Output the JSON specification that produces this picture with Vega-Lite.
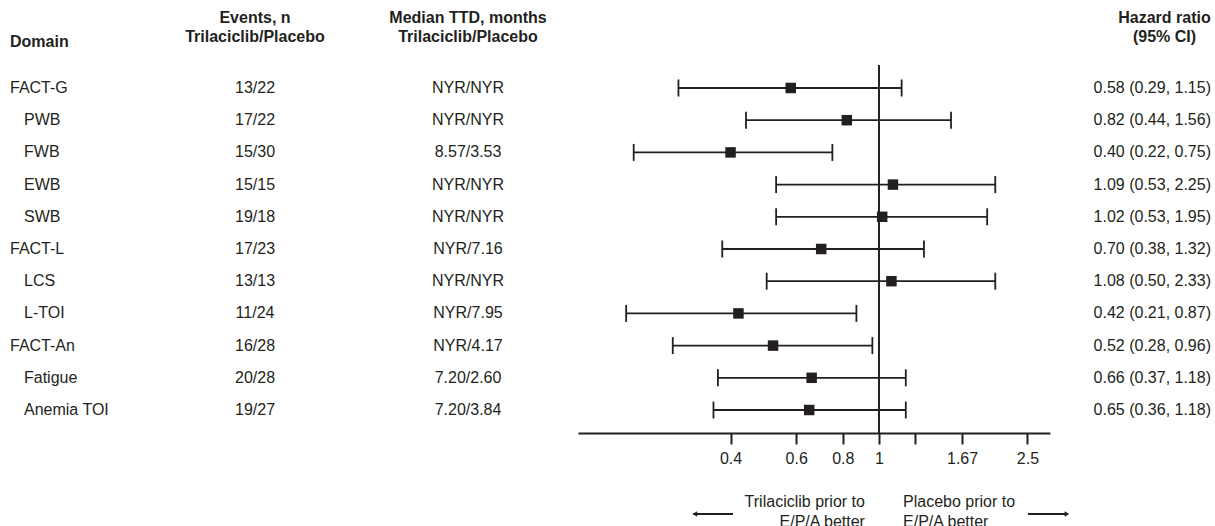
{
  "$schema": "https://vega.github.io/schema/vega-lite/v6.json",
  "padding": {"left": 10, "top": 10, "right": 3, "bottom": 0},
  "autosize": {"type": "pad"},
  "background": "white",
  "config": {
    "view": {"stroke": null},
    "font": "Liberation Sans",
    "text": {"font": "Liberation Sans", "fontSize": 16, "color": "#231f20"},
    "title": {"font": "Liberation Sans", "fontSize": 16, "fontWeight": "bold", "color": "#231f20", "lineHeight": 19},
    "axis": {
      "title": null, "grid": false,
      "domainColor": "#231f20", "domainWidth": 2,
      "tickColor": "#231f20", "tickWidth": 2, "tickSize": 11,
      "labelFont": "Liberation Sans", "labelFontSize": 16, "labelColor": "#231f20",
      "labelPadding": 6, "labelFlush": false, "labelOverlap": false
    }
  },
  "datasets": {
    "rows": [
      {"domain": "FACT-G", "level": 0, "events": "13/22", "ttd": "NYR/NYR", "hr": 0.58, "lo": 0.29, "hi": 1.15, "label": "0.58 (0.29, 1.15)"},
      {"domain": "PWB", "level": 1, "events": "17/22", "ttd": "NYR/NYR", "hr": 0.82, "lo": 0.44, "hi": 1.56, "label": "0.82 (0.44, 1.56)"},
      {"domain": "FWB", "level": 1, "events": "15/30", "ttd": "8.57/3.53", "hr": 0.40, "lo": 0.22, "hi": 0.75, "label": "0.40 (0.22, 0.75)"},
      {"domain": "EWB", "level": 1, "events": "15/15", "ttd": "NYR/NYR", "hr": 1.09, "lo": 0.53, "hi": 2.05, "label": "1.09 (0.53, 2.25)"},
      {"domain": "SWB", "level": 1, "events": "19/18", "ttd": "NYR/NYR", "hr": 1.02, "lo": 0.53, "hi": 1.95, "label": "1.02 (0.53, 1.95)"},
      {"domain": "FACT-L", "level": 0, "events": "17/23", "ttd": "NYR/7.16", "hr": 0.70, "lo": 0.38, "hi": 1.32, "label": "0.70 (0.38, 1.32)"},
      {"domain": "LCS", "level": 1, "events": "13/13", "ttd": "NYR/NYR", "hr": 1.08, "lo": 0.50, "hi": 2.05, "label": "1.08 (0.50, 2.33)"},
      {"domain": "L-TOI", "level": 1, "events": "11/24", "ttd": "NYR/7.95", "hr": 0.42, "lo": 0.21, "hi": 0.87, "label": "0.42 (0.21, 0.87)"},
      {"domain": "FACT-An", "level": 0, "events": "16/28", "ttd": "NYR/4.17", "hr": 0.52, "lo": 0.28, "hi": 0.96, "label": "0.52 (0.28, 0.96)"},
      {"domain": "Fatigue", "level": 1, "events": "20/28", "ttd": "7.20/2.60", "hr": 0.66, "lo": 0.37, "hi": 1.18, "label": "0.66 (0.37, 1.18)"},
      {"domain": "Anemia TOI", "level": 1, "events": "19/27", "ttd": "7.20/3.84", "hr": 0.65, "lo": 0.36, "hi": 1.18, "label": "0.65 (0.36, 1.18)"}
    ]
  },
  "spacing": 0,
  "hconcat": [
    {
      "width": 142, "height": 368,
      "title": {"text": "Domain", "anchor": "start", "offset": 15},
      "data": {"name": "rows"},
      "layer": [
        {
          "transform": [{"filter": "datum.level == 0"}],
          "mark": {"type": "text", "align": "left", "baseline": "middle"},
          "encoding": {
            "x": {"value": 0},
            "y": {"field": "domain", "type": "nominal", "axis": null, "scale": {"type": "point", "padding": 0.714, "domain": ["FACT-G", "PWB", "FWB", "EWB", "SWB", "FACT-L", "LCS", "L-TOI", "FACT-An", "Fatigue", "Anemia TOI"]}},
            "text": {"field": "domain"}
          }
        },
        {
          "transform": [{"filter": "datum.level == 1"}],
          "mark": {"type": "text", "align": "left", "baseline": "middle", "dx": 14},
          "encoding": {
            "x": {"value": 0},
            "y": {"field": "domain", "type": "nominal", "axis": null, "scale": {"type": "point", "padding": 0.714, "domain": ["FACT-G", "PWB", "FWB", "EWB", "SWB", "FACT-L", "LCS", "L-TOI", "FACT-An", "Fatigue", "Anemia TOI"]}},
            "text": {"field": "domain"}
          }
        }
      ]
    },
    {
      "width": 206, "height": 368,
      "title": {"text": ["Events, n", "Trilaciclib/Placebo"], "offset": 20},
      "data": {"name": "rows"},
      "mark": {"type": "text", "align": "center", "baseline": "middle"},
      "encoding": {
        "y": {"field": "domain", "type": "nominal", "axis": null, "scale": {"type": "point", "padding": 0.714, "domain": ["FACT-G", "PWB", "FWB", "EWB", "SWB", "FACT-L", "LCS", "L-TOI", "FACT-An", "Fatigue", "Anemia TOI"]}},
        "text": {"field": "events"}
      }
    },
    {
      "width": 220, "height": 368,
      "title": {"text": ["Median TTD, months", "Trilaciclib/Placebo"], "offset": 20},
      "data": {"name": "rows"},
      "mark": {"type": "text", "align": "center", "baseline": "middle"},
      "encoding": {
        "y": {"field": "domain", "type": "nominal", "axis": null, "scale": {"type": "point", "padding": 0.714, "domain": ["FACT-G", "PWB", "FWB", "EWB", "SWB", "FACT-L", "LCS", "L-TOI", "FACT-An", "Fatigue", "Anemia TOI"]}},
        "text": {"field": "ttd"}
      }
    },
    {
      "bounds": "flush",
      "spacing": 39,
      "vconcat": [
        {
          "width": 472, "height": 368,
          "layer": [
            {
              "data": {"values": [{"ref": 1}]},
              "mark": {"type": "rule", "color": "#231f20", "strokeWidth": 2},
              "encoding": {
                "x": {"field": "ref", "type": "quantitative", "scale": {"type": "log", "domain": [0.156, 2.874], "nice": false},
                      "axis": {"values": [0.4, 0.6, 0.8, 1, 1.25, 1.67, 2.5], "format": "~g", "labelExpr": "datum.value == 1.25 ? '' : datum.label"}}
              }
            },
            {
              "data": {"name": "rows"},
              "mark": {"type": "rule", "color": "#231f20", "strokeWidth": 1.8},
              "encoding": {
                "x": {"field": "lo", "type": "quantitative", "scale": {"type": "log", "domain": [0.156, 2.874], "nice": false}},
                "x2": {"field": "hi"},
                "y": {"field": "domain", "type": "nominal", "axis": null, "scale": {"type": "point", "padding": 0.714, "domain": ["FACT-G", "PWB", "FWB", "EWB", "SWB", "FACT-L", "LCS", "L-TOI", "FACT-An", "Fatigue", "Anemia TOI"]}}
              }
            },
            {
              "data": {"name": "rows"},
              "mark": {"type": "tick", "color": "#231f20", "thickness": 1.8, "size": 17, "orient": "vertical", "opacity": 1},
              "encoding": {
                "x": {"field": "lo", "type": "quantitative", "scale": {"type": "log", "domain": [0.156, 2.874], "nice": false}},
                "y": {"field": "domain", "type": "nominal", "axis": null, "scale": {"type": "point", "padding": 0.714, "domain": ["FACT-G", "PWB", "FWB", "EWB", "SWB", "FACT-L", "LCS", "L-TOI", "FACT-An", "Fatigue", "Anemia TOI"]}}
              }
            },
            {
              "data": {"name": "rows"},
              "mark": {"type": "tick", "color": "#231f20", "thickness": 1.8, "size": 17, "orient": "vertical", "opacity": 1},
              "encoding": {
                "x": {"field": "hi", "type": "quantitative", "scale": {"type": "log", "domain": [0.156, 2.874], "nice": false}},
                "y": {"field": "domain", "type": "nominal", "axis": null, "scale": {"type": "point", "padding": 0.714, "domain": ["FACT-G", "PWB", "FWB", "EWB", "SWB", "FACT-L", "LCS", "L-TOI", "FACT-An", "Fatigue", "Anemia TOI"]}}
              }
            },
            {
              "data": {"name": "rows"},
              "mark": {"type": "point", "shape": "square", "filled": true, "size": 110, "color": "#231f20", "opacity": 1},
              "encoding": {
                "x": {"field": "hr", "type": "quantitative", "scale": {"type": "log", "domain": [0.156, 2.874], "nice": false}},
                "y": {"field": "domain", "type": "nominal", "axis": null, "scale": {"type": "point", "padding": 0.714, "domain": ["FACT-G", "PWB", "FWB", "EWB", "SWB", "FACT-L", "LCS", "L-TOI", "FACT-An", "Fatigue", "Anemia TOI"]}}
              }
            }
          ]
        },
        {
          "width": 472, "height": 60,
          "layer": [
            {
              "data": {"values": [{"t": "Trilaciclib prior to\nE/P/A better", "at": 0.917}]},
              "mark": {"type": "text", "align": "right", "baseline": "middle", "lineBreak": "\n", "lineHeight": 20},
              "encoding": {
                "x": {"field": "at", "type": "quantitative", "scale": {"type": "log", "domain": [0.156, 2.874], "nice": false}, "axis": null},
                "text": {"field": "t"}
              }
            },
            {
              "data": {"values": [{"t": "Placebo prior to\nE/P/A better", "at": 1.16}]},
              "mark": {"type": "text", "align": "left", "baseline": "middle", "lineBreak": "\n", "lineHeight": 20},
              "encoding": {
                "x": {"field": "at", "type": "quantitative", "scale": {"type": "log", "domain": [0.156, 2.874], "nice": false}, "axis": null},
                "text": {"field": "t"}
              }
            },
            {
              "data": {"values": [{"a": 0.318, "b": 0.406}, {"a": 2.509, "b": 3.2}]},
              "mark": {"type": "rule", "color": "#231f20", "strokeWidth": 1.8, "yOffset": 12},
              "encoding": {
                "x": {"field": "a", "type": "quantitative", "scale": {"type": "log", "domain": [0.156, 2.874], "nice": false}, "axis": null},
                "x2": {"field": "b"}
              }
            },
            {
              "data": {"values": [{"v": 0.321, "s": "triangle-left"}, {"v": 3.19, "s": "triangle-right"}]},
              "mark": {"type": "point", "filled": true, "size": 28, "color": "#231f20", "opacity": 1, "yOffset": 12},
              "encoding": {
                "x": {"field": "v", "type": "quantitative", "scale": {"type": "log", "domain": [0.156, 2.874], "nice": false}, "axis": null},
                "shape": {"field": "s", "type": "nominal", "scale": null}
              }
            }
          ]
        }
      ]
    },
    {
      "width": 141, "height": 368,
      "title": {"text": ["Hazard ratio", "(95% CI)"], "offset": 20, "dx": 24},
      "data": {"name": "rows"},
      "mark": {"type": "text", "align": "right", "baseline": "middle"},
      "encoding": {
        "x": {"value": 141},
        "y": {"field": "domain", "type": "nominal", "axis": null, "scale": {"type": "point", "padding": 0.714, "domain": ["FACT-G", "PWB", "FWB", "EWB", "SWB", "FACT-L", "LCS", "L-TOI", "FACT-An", "Fatigue", "Anemia TOI"]}},
        "text": {"field": "label"}
      }
    }
  ]
}
